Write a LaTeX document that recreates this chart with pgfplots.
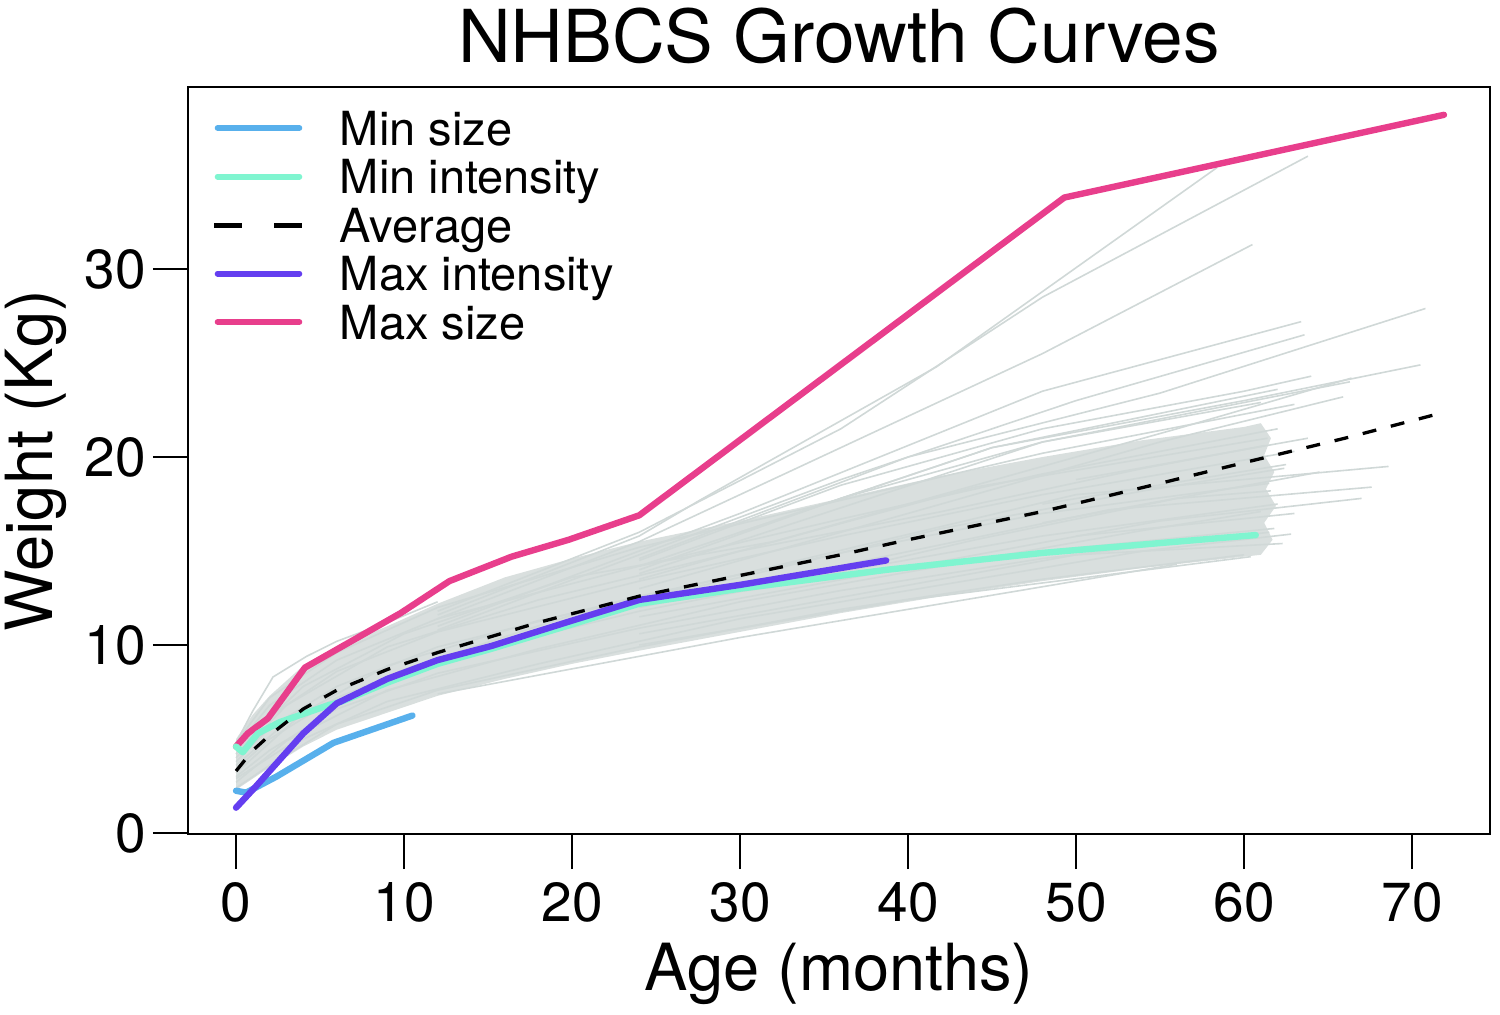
\documentclass[border=0pt]{standalone}
\usepackage{fontspec}
\setmainfont{TeX Gyre Heros}
\usepackage{pgfplots}
\pgfplotsset{compat=1.18}
\definecolor{gline}{RGB}{208,216,215}
\definecolor{gfill}{RGB}{217,223,222}
\definecolor{minsize}{RGB}{88,176,236}
\definecolor{minint}{RGB}{127,245,208}
\definecolor{maxint}{RGB}{100,62,240}
\definecolor{maxsize}{RGB}{232,62,140}
\begin{document}
\begin{tikzpicture}
\useasboundingbox (-94pt,-90pt) rectangle (656pt,417pt);
\begin{axis}[
  scale only axis, width=651pt, height=373.5pt,
  xmin=-2.86, xmax=74.64, ymin=-0.05, ymax=39.68,
  xtick={0,10,20,30,40,50,60,70}, ytick={0,10,20,30},
  xtick pos=bottom, ytick pos=left,
  tick align=outside, major tick length=17.5pt,
  axis line style={line width=1.3pt},
  every tick/.style={black, line width=1.3pt},
  tick label style={font=\fontsize{27.5}{30}\selectfont},
  xticklabel style={yshift=-3pt},
  /pgf/number format/assume math mode=true,
  every axis title shift=0pt,
  title={NHBCS Growth Curves},
  title style={font=\fontsize{36.5}{40}\selectfont, at={(axis description cs:0.5,1)}, anchor=base, yshift=12.5pt},
  xlabel={Age (months)},
  xlabel style={font=\fontsize{32.5}{36}\selectfont, at={(axis description cs:0.5,0)}, anchor=base, yshift=-78pt},
  ylabel={Weight (Kg)},
  ylabel style={font=\fontsize{32.5}{36}\selectfont, at={(axis description cs:-0.1037,0.5)}, anchor=base},
  legend style={at={(axis description cs:0,1)}, anchor=north west, xshift=12pt, yshift=-12pt,
    draw=none, fill=none, inner sep=0pt, outer sep=0pt, row sep=0pt,
    font=\fontsize{23.5}{28}\selectfont,
    cells={anchor=base west},
    nodes={inner sep=0pt, text height=17pt, text depth=7.25pt},
    /tikz/every odd column/.append style={column sep=17.5pt}},
  legend image code/.code={\path[draw=none,fill=none] (0pt,0pt) -- (44pt,0pt); \draw[#1] (1.6pt,8.5pt) -- (42.4pt,8.5pt);},
  every axis plot/.append style={line join=round},
]
% dense core of individual curves
\addplot[fill=gfill, draw=none, forget plot] coordinates {
(0,5.0) (1,6.3) (2,7.3) (4,8.9) (6,9.9) (9,11.0) (12,12.2) (16,13.6) (20,14.6) (24,15.5) (30,16.6) (36,17.8) (42,19.0) (48,20.0) (54,20.9) (60,21.6) (61,21.8)
(61.6,21.0) (61.2,20.1) (61.8,19.2) (61.3,18.3) (61.9,17.4) (61.2,16.5) (61.7,15.6) (61,14.8) (60,14.7) (54,14.1) (48,13.4) (42,12.6) (36,11.7) (30,10.7) (24,9.7) (20,9.0) (16,8.2) (12,7.3) (9,6.4) (6,5.5) (4,4.6) (2,3.5) (1,2.9) (0,2.3)} -- cycle;
\pgfplotsset{gl/.style={gline, line width=0.8pt, forget plot}}
\addplot[gl] coordinates {(0,2.4) (2,3.6) (6,5.8) (12,7.6) (24,9.9) (36,11.9) (48,13.5) (60,14.8)};
\addplot[gl] coordinates {(0,3.0) (2,4.4) (6,6.6) (12,8.5) (24,10.9) (36,12.9) (48,14.6) (61.5,16.0)};
\addplot[gl] coordinates {(0,3.4) (2,5.0) (6,7.2) (12,9.2) (24,11.8) (36,13.9) (48,15.8) (62,17.5)};
\addplot[gl] coordinates {(0,3.8) (2,5.6) (6,7.8) (12,9.9) (24,12.6) (36,14.9) (48,17.0) (61.5,18.6)};
\addplot[gl] coordinates {(0,4.2) (2,6.2) (6,8.6) (12,10.7) (24,13.4) (36,15.8) (48,18.0) (63,20.3)};
\addplot[gl] coordinates {(0,4.6) (2,6.8) (6,9.2) (12,11.4) (24,14.2) (36,16.7) (48,19.1) (62,21.5)};
\addplot[gl] coordinates {(0,4.8) (2,7.2) (6,9.6) (12,12.0) (24,15.2) (36,17.7) (48,20.2) (63,22.8)};
\addplot[gl] coordinates {(0,2.7) (3,4.9) (9,7.6) (18,9.8) (30,12.3) (42,14.2) (54,16.1) (61,17.1)};
\addplot[gl] coordinates {(0,3.6) (3,5.9) (9,8.9) (18,11.3) (30,13.6) (42,16.2) (54,18.2) (62.4,19.4)};
\addplot[gl] coordinates {(0,4.0) (3,6.8) (9,9.9) (18,12.4) (30,15.0) (42,17.1) (54,19.4) (61.2,20.6)};
\addplot[gl] coordinates {(0,2.9) (3,4.6) (9,7.0) (18,9.0) (30,11.4) (42,13.2) (54,15.0) (62.8,15.9)};
\addplot[gl] coordinates {(0,3.2) (4,6.4) (10,8.7) (20,11.6) (32,13.1) (44,15.6) (56,17.8) (61.6,18.2)};
\addplot[gl] coordinates {(0,4.4) (4,7.8) (10,10.6) (20,13.6) (32,15.5) (44,18.4) (56,20.2) (61.4,21.0)};
\addplot[gl] coordinates {(0,4.8) (1,6.5) (2.2,8.3) (4.2,9.4) (6,10.2) (9,11.2) (12,12.3)};
\addplot[gl] coordinates {(12,11.8) (24,16.0) (36,21.5) (48,28.5) (63.8,36.0)};
\addplot[gl] coordinates {(12,11.6) (24,15.8) (27.6,17.7) (41.7,24.8) (58.4,35.4)};
\addplot[gl] coordinates {(12,11.4) (24,15.5) (36,20.5) (48,25.5) (60.5,31.3)};
\addplot[gl] coordinates {(12,11.0) (30,17.0) (48,23.5) (63.4,27.2)};
\addplot[gl] coordinates {(12,10.8) (36,18.8) (50,23.0) (63.6,26.5)};
\addplot[gl] coordinates {(24,14.6) (40,20.0) (55,23.4) (70.8,27.9)};
\addplot[gl] coordinates {(24,14.2) (45,20.5) (60,23.0) (70.5,24.9)};
\addplot[gl] coordinates {(24,13.8) (48,20.8) (66.3,24.0)};
\addplot[gl] coordinates {(24,12.5) (50,18.0) (68.6,19.5)};
\addplot[gl] coordinates {(24,12.0) (52,17.2) (67.6,18.4)};
\addplot[gl] coordinates {(24,11.5) (55,16.6) (67,17.8)};
\addplot[gl] coordinates {(24,10.6) (50,14.8) (62.3,15.4)};
\addplot[gl] coordinates {(24,14.5) (36,18.5) (48,21.5) (60,23.5) (64,24.3)};
\addplot[gl] coordinates {(24,14.0) (36,17.8) (48,20.8) (61,22.9)};
\addplot[gl] coordinates {(30,16.0) (45,20.5) (62,23.6)};
\addplot[gl] coordinates {(24,13.5) (40,17.5) (56,21.5) (66.4,24.2)};
\addplot[gl] coordinates {(24,13.0) (40,17.0) (55,20.8) (65.9,23.2)};
\addplot[gl] coordinates {(24,10.0) (40,12.4) (60.4,14.7)};
\addplot[gl] coordinates {(12,7.4) (30,10.4) (56,14.3)};
\addplot[gl] coordinates {(48,16.5) (64.5,19.2)};
\addplot[gl] coordinates {(50,15.8) (63,17.0)};
\addplot[gl] coordinates {(50,18.8) (63.8,21.0)};
\addplot[gl] coordinates {(48,17.5) (62.5,19.6)};
\addplot[gl] coordinates {(48,15.0) (61.8,16.2)};
% highlighted curves
\addplot[maxsize, line width=3.2pt, line cap=round, forget plot] coordinates {
(0,4.6) (0.7,5.3) (1.9,6.1) (4.1,8.8) (9.8,11.7) (12.7,13.4) (16.4,14.7) (19.8,15.6) (24,16.9) (49.3,33.8) (71.9,38.2)};
\addplot[minsize, line width=3.2pt, line cap=round, forget plot] coordinates {
(0,2.25) (0.6,2.15) (2.4,3.0) (5.8,4.8) (10.5,6.25)};
\addplot[minint, line width=3.2pt, line cap=round, forget plot] coordinates {
(0,4.6) (0.4,4.3) (1.3,5.3) (2.6,5.9) (5.5,6.8) (6.3,7.0) (9,8.0) (12,9.0) (15.2,9.8) (20,11.1) (24,12.2) (30,13.0) (38.7,14.0) (48,14.9) (60.7,15.85)};
\addplot[maxint, line width=3.2pt, line cap=round, forget plot] coordinates {
(0,1.35) (1.2,2.5) (2.5,3.8) (4,5.3) (6,6.9) (9,8.2) (12,9.2) (15.2,9.95) (20,11.3) (24,12.4) (30,13.2) (38.7,14.5)};
\addplot[black, line width=1.65pt, dash pattern=on 7pt off 7.5pt, forget plot] coordinates {
(0,3.3) (1,4.4) (2,5.2) (4,6.6) (6,7.6) (9,8.7) (12,9.6) (18,11.2) (24,12.6) (30,13.7) (36,14.8) (40,15.6) (48,17.1) (55,18.6) (60,19.7) (66,21.0) (72,22.4)};
% legend
\addlegendimage{minsize, line width=3pt, line cap=round}
\addlegendentry{Min size}
\addlegendimage{minint, line width=3pt, line cap=round}
\addlegendentry{Min intensity}
\addlegendimage{legend image code/.code={\path[draw=none,fill=none] (0pt,0pt) -- (44pt,0pt); \draw[black, line width=2.5pt] (0pt,8.5pt) -- (14pt,8.5pt) (30pt,8.5pt) -- (44pt,8.5pt);}}
\addlegendentry{Average}
\addlegendimage{maxint, line width=3pt, line cap=round}
\addlegendentry{Max intensity}
\addlegendimage{maxsize, line width=3pt, line cap=round}
\addlegendentry{Max size}
\end{axis}
\end{tikzpicture}
\end{document}
